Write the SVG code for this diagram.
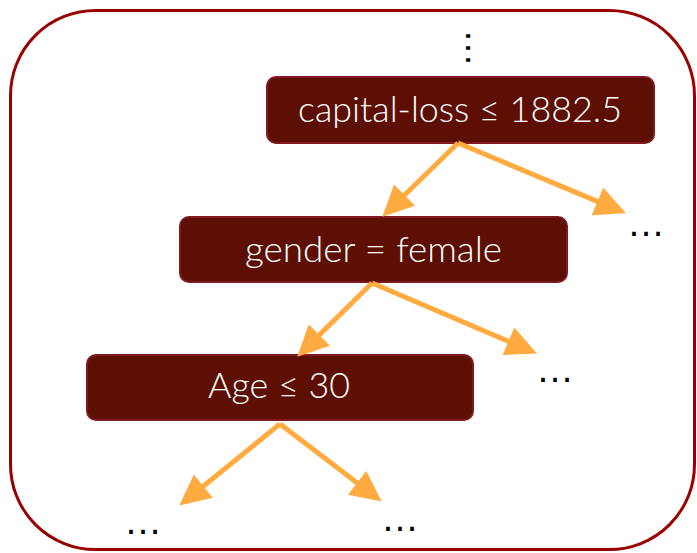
<svg xmlns="http://www.w3.org/2000/svg" width="697" height="553" viewBox="0 0 697 553">
<style>
.frame{fill:#fff;stroke:#990000;stroke-width:3}
.box{fill:#5c0f02;stroke:#7f1a22;stroke-width:2}
.lbl{font-family:Lato,"Open Sans",sans-serif;font-size:35px;font-weight:300;fill:#fff;text-anchor:middle}
.dots{font-family:"Liberation Sans",Arial,sans-serif;font-size:38px;fill:#000;text-anchor:middle}
.edge{stroke:#ffab40;stroke-width:5;fill:none;marker-end:url(#ah)}
</style>
<defs>
<marker id="ah" markerUnits="userSpaceOnUse" markerWidth="34" markerHeight="32" refX="20" refY="15" orient="auto">
<path d="M0,0 L31,15 L0,30 Z" fill="#ffab40"/>
</marker>
</defs>
<rect class="frame" x="10.5" y="10.5" width="684" height="539" rx="85" ry="85"/>
<g id="node-capital-loss">
<rect class="box" x="267" y="77" width="387" height="66" rx="9"/>
<text class="lbl" x="460" y="122" textLength="324" lengthAdjust="spacingAndGlyphs">capital-loss ≤ 1882.5</text>
</g>
<g id="node-gender">
<rect class="box" x="180" y="217" width="387" height="65" rx="9"/>
<text class="lbl" x="373.5" y="262" textLength="257" lengthAdjust="spacingAndGlyphs">gender = female</text>
</g>
<g id="node-age">
<rect class="box" x="87" y="355" width="386" height="65" rx="9"/>
<text class="lbl" x="279" y="398" textLength="142" lengthAdjust="spacingAndGlyphs">Age ≤ 30</text>
</g>
<g id="ellipses">
<text class="dots" transform="translate(470,48) rotate(90)" x="0" y="4">…</text>
<text class="dots" x="646" y="236">…</text>
<text class="dots" x="555" y="382">…</text>
<text class="dots" x="143" y="534">…</text>
<text class="dots" x="400" y="531">…</text>
</g>
<g id="connectors">
<line class="edge" x1="458" y1="143" x2="390.2" y2="209"/>
<line class="edge" x1="458" y1="143" x2="615.8" y2="209.1"/>
<line class="edge" x1="372" y1="283" x2="305.1" y2="349"/>
<line class="edge" x1="372" y1="283" x2="526.8" y2="349.1"/>
<line class="edge" x1="280" y1="424" x2="187.8" y2="498.7"/>
<line class="edge" x1="280" y1="424" x2="373" y2="494.9"/>
</g>
</svg>
